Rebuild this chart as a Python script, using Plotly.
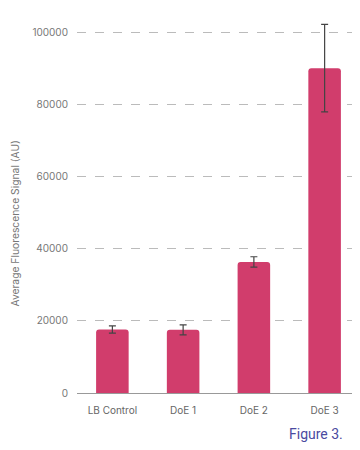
import plotly.graph_objects as go

categories = ["LB Control", "DoE 1", "DoE 2", "DoE 3"]
values = [17600, 17500, 36300, 90000]
errors = [1000, 1400, 1450, 12100]
y_ticks = [0, 20000, 40000, 60000, 80000, 100000]

fig = go.Figure()
fig.add_trace(go.Bar(
    x=categories, y=values,
    marker=dict(color="#d13d6c", line=dict(width=0)),
    error_y=dict(type="data", array=errors, visible=True, color="#444444", thickness=1.2, width=3.5),
))
fig.update_layout(
    width=352, height=442,
    margin=dict(l=69, r=0, t=6, b=57, autoexpand=False),
    paper_bgcolor="white", plot_bgcolor="white",
    font=dict(family="Inter, Roboto, sans-serif", color="#777777", size=10),
    bargap=0.54,
    barcornerradius=3,
    showlegend=False,
    xaxis=dict(showgrid=False, showline=True, linecolor="#999999", linewidth=1, ticks="",
               automargin=False, ticklabelstandoff=8,
               tickfont=dict(size=10, color="#666666")),
    yaxis=dict(range=[0, 105000], tickvals=y_ticks, ticktext=[str(v) for v in y_ticks],
               showgrid=True, gridcolor="#bbbbbb", griddash="dash", gridwidth=1,
               zeroline=False, showline=False, ticks="", ticklabelstandoff=8,
               automargin=False,
               tickfont=dict(size=10, color="#777777")),
    annotations=[
        dict(text="Average Fluorescence Signal (AU)", xref="paper", yref="paper",
             x=0, y=0.5, xanchor="center", yanchor="middle", xshift=-63, yshift=-20,
             textangle=-90, showarrow=False, font=dict(size=10.3, color="#777777")),
        dict(text="Figure 3.", xref="paper", yref="paper", x=1.0, y=0, yshift=-51,
             xanchor="right", yanchor="bottom", xshift=-15, showarrow=False,
             font=dict(family="Roboto, sans-serif", size=14, color="#4a4aa0")),
    ],
)
fig.write_html("out.html")
